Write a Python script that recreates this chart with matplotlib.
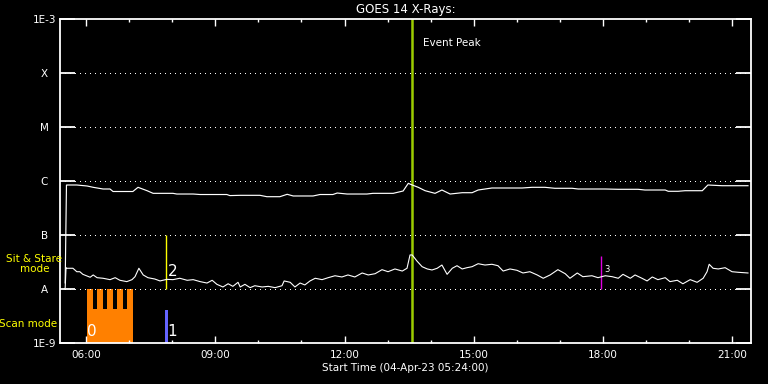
import numpy as np
import matplotlib
matplotlib.use("Agg")
import matplotlib.pyplot as plt
from matplotlib.ticker import FixedLocator

# hours since start time 04-Apr-23 05:24:00
long_t = [0.12, 0.15, 0.16, 0.39, 0.63, 0.77, 1.00, 1.16, 1.23, 1.69, 1.81, 2.02, 2.16,
          2.62, 2.71, 3.09, 3.25, 3.87, 3.94, 4.18, 4.64, 4.80, 5.10, 5.27, 5.41, 5.87,
          6.03, 6.33, 6.43, 6.66, 7.12, 7.26, 7.73, 7.96, 8.08, 8.17, 8.31, 8.47, 8.70,
          8.86, 9.05, 9.33, 9.56, 9.70, 10.02, 10.72, 10.95, 11.25, 11.48, 11.88, 12.02,
          12.65, 12.95, 13.41, 13.57, 14.04, 14.11, 14.34, 14.50, 14.90, 15.03, 15.36, 15.96]
long_flux = [1.3e-8, 8.4e-7, 8.43e-7, 8.43e-7, 8.08e-7, 7.64e-7, 7.11e-7, 7.11e-7, 6.39e-7,
             6.39e-7, 7.64e-7, 6.61e-7, 5.91e-7, 5.91e-7, 5.74e-7, 5.74e-7, 5.62e-7, 5.62e-7,
             5.37e-7, 5.43e-7, 5.43e-7, 5.12e-7, 5.12e-7, 5.67e-7, 5.28e-7, 5.28e-7, 5.62e-7,
             5.62e-7, 5.99e-7, 5.74e-7, 5.74e-7, 5.91e-7, 5.91e-7, 6.53e-7, 9.06e-7, 8.43e-7,
             7.64e-7, 6.61e-7, 5.91e-7, 6.81e-7, 5.74e-7, 6.07e-7, 6.07e-7, 6.81e-7, 7.42e-7,
             7.42e-7, 7.64e-7, 7.64e-7, 7.33e-7, 7.33e-7, 7.11e-7, 7.11e-7, 7.02e-7, 7.02e-7,
             6.81e-7, 6.81e-7, 6.45e-7, 6.45e-7, 6.61e-7, 6.61e-7, 8.43e-7, 8.18e-7, 8.18e-7]

short_t = [0.10, 0.12, 0.14, 0.16, 0.30, 0.39, 0.46, 0.53, 0.70, 0.77, 0.86, 1.00, 1.16,
           1.28, 1.39, 1.55, 1.67, 1.74, 1.83, 1.93, 2.04, 2.20, 2.32, 2.48, 2.62, 2.78,
           2.95, 3.09, 3.25, 3.41, 3.53, 3.64, 3.78, 3.90, 4.01, 4.13, 4.18, 4.29, 4.41,
           4.52, 4.69, 4.83, 4.99, 5.15, 5.20, 5.34, 5.45, 5.57, 5.68, 5.80, 5.92, 6.08,
           6.22, 6.38, 6.54, 6.68, 6.84, 7.01, 7.15, 7.31, 7.47, 7.61, 7.77, 7.94, 8.05,
           8.12, 8.17, 8.28, 8.40, 8.52, 8.63, 8.75, 8.86, 8.98, 9.10, 9.21, 9.33, 9.44,
           9.56, 9.70, 9.86, 10.02, 10.16, 10.28, 10.44, 10.60, 10.74, 10.90, 11.07, 11.21,
           11.37, 11.55, 11.72, 11.83, 12.00, 12.13, 12.34, 12.48, 12.65, 12.81, 12.95,
           13.06, 13.23, 13.34, 13.50, 13.62, 13.74, 13.87, 14.04, 14.15, 14.32, 14.45,
           14.62, 14.78, 14.92, 15.01, 15.06, 15.15, 15.27, 15.43, 15.59, 15.73, 15.96]
short_flux = [1.0e-8, 1.04e-8, 2.48e-8, 2.42e-8, 2.42e-8, 2.09e-8, 2.09e-8, 1.87e-8,
              1.65e-8, 1.82e-8, 1.62e-8, 1.58e-8, 1.49e-8, 1.62e-8, 1.45e-8, 1.37e-8,
              1.49e-8, 1.69e-8, 2.42e-8, 1.82e-8, 1.62e-8, 1.53e-8, 1.41e-8, 1.51e-8,
              1.49e-8, 1.58e-8, 1.45e-8, 1.49e-8, 1.37e-8, 1.29e-8, 1.45e-8, 1.22e-8,
              1.09e-8, 1.25e-8, 1.12e-8, 1.33e-8, 1.09e-8, 1.22e-8, 1.06e-8, 1.15e-8,
              1.09e-8, 1.12e-8, 1.06e-8, 1.15e-8, 1.41e-8, 1.33e-8, 1.09e-8, 1.29e-8,
              1.19e-8, 1.41e-8, 1.58e-8, 1.49e-8, 1.62e-8, 1.76e-8, 1.67e-8, 1.82e-8,
              1.67e-8, 1.98e-8, 1.82e-8, 1.92e-8, 2.28e-8, 2.09e-8, 2.35e-8, 2.15e-8,
              2.42e-8, 4.27e-8, 4.27e-8, 3.30e-8, 2.59e-8, 2.35e-8, 2.25e-8, 2.42e-8,
              2.78e-8, 1.87e-8, 2.42e-8, 2.70e-8, 2.35e-8, 2.48e-8, 2.59e-8, 2.94e-8,
              2.78e-8, 2.87e-8, 2.70e-8, 2.15e-8, 2.35e-8, 2.22e-8, 1.98e-8, 2.09e-8,
              1.82e-8, 1.58e-8, 1.82e-8, 2.28e-8, 1.92e-8, 1.58e-8, 1.98e-8, 1.69e-8,
              1.76e-8, 1.62e-8, 1.76e-8, 1.69e-8, 1.58e-8, 1.87e-8, 1.58e-8, 1.82e-8,
              1.58e-8, 1.41e-8, 1.67e-8, 1.49e-8, 1.62e-8, 1.37e-8, 1.45e-8, 1.25e-8,
              1.49e-8, 1.33e-8, 1.58e-8, 2.09e-8, 2.87e-8, 2.42e-8, 2.35e-8, 2.48e-8,
              2.09e-8, 2.04e-8, 1.98e-8]

# instrument modes / events
scan_block = (0.626, 1.694, 4.27e-9)       # start, end, top flux
scan_starts = [0.626, 0.858, 1.090, 1.322, 1.555]
scan_dur = 0.14
obs1 = (2.43, 0.07, 4.08e-9)               # blue scan bar
obs2 = (2.46, 1e-8, 1e-7)                  # sit & stare
obs3 = (12.55, 1e-8, 4.08e-8)
peak_t = 8.17

xmaj = [0.6, 3.6, 6.6, 9.6, 12.6, 15.6]
xlabels = ["06:00", "09:00", "12:00", "15:00", "18:00", "21:00"]
xminor = [0.6 + i for i in range(16)]
yvals = [1e-9, 1e-8, 1e-7, 1e-6, 1e-5, 1e-4, 1e-3]
ylabels = ["1E-9", "A", "B", "C", "M", "X", "1E-3"]

fig = plt.figure(figsize=(7.68, 3.84), dpi=100, facecolor="black")
ax = fig.add_axes([60 / 768, 41 / 384, 691 / 768, 324 / 384], facecolor="black")
ax.set_yscale("log")
ax.set_xlim(0, 16.03)
ax.set_ylim(1e-9, 1e-3)

for v in yvals[1:-1]:
    ax.axhline(v, color="white", lw=0.72, ls=(0, (1, 5)), antialiased=False)

# orange scan mode block with notches
ax.bar(scan_block[0], scan_block[2] - 1e-9, width=scan_block[1] - scan_block[0],
       bottom=1e-9, align="edge", color="#ff8000", lw=0)
ax.bar(scan_starts, [1e-8 - 1e-9] * len(scan_starts), width=scan_dur, bottom=1e-9,
       align="edge", color="#ff8000", lw=0)
ax.bar(obs1[0], obs1[2] - 1e-9, width=obs1[1], bottom=1e-9, align="edge",
       color="#6464ff", lw=0)
ax.vlines(obs2[0], obs2[1], obs2[2], color="#ffff00", lw=1.0)
ax.vlines(obs3[0], obs3[1], obs3[2], color="#e000e0", lw=1.0)
ax.axvline(peak_t, color="#9ccc00", lw=1.8)

ax.plot(long_t, long_flux, color="white", lw=0.85)
ax.plot(short_t, short_flux, color="white", lw=0.8)

ax.text(0.63, 1.6e-9, "0", color="white", fontsize=11, va="center", ha="left")
ax.text(2.48, 1.6e-9, "1", color="white", fontsize=11, va="center", ha="left")
ax.text(2.51, 2.07e-8, "2", color="white", fontsize=11, va="center", ha="left")
ax.text(12.62, 2.34e-8, "3", color="white", fontsize=6, va="center", ha="left")
ax.text(8.42, 3.67e-4, "Event Peak", color="white", fontsize=7.5, va="center", ha="left")

fig.text(34.5 / 768, 1 - 264 / 384, "Sit & Stare\nmode", color="#ffff00", fontsize=7.5,
         ha="center", va="center", linespacing=1.1)
fig.text(28 / 768, 1 - 324 / 384, "Scan mode", color="#ffff00", fontsize=7.5,
         ha="center", va="center")

for s in ax.spines.values():
    s.set_color("white")
    s.set_linewidth(1.3)

ax.xaxis.set_major_locator(FixedLocator(xmaj))
ax.xaxis.set_minor_locator(FixedLocator(xminor))
ax.set_xticklabels(xlabels)
ax.yaxis.set_major_locator(FixedLocator(yvals))
ax.yaxis.set_minor_locator(FixedLocator([]))
ax.set_yticklabels(ylabels)
ax.tick_params(axis="x", which="major", direction="in", length=5, width=1,
               colors="white", top=True, labelsize=7.5, pad=5)
ax.tick_params(axis="x", which="minor", direction="in", length=2.5, width=1,
               colors="white", top=True)
ax.tick_params(axis="y", which="major", direction="in", length=10.5, width=1.3,
               colors="white", right=True, labelsize=7.5, pad=11.2)
for lab in ax.get_yticklabels():
    lab.set_ha("center")

ax.set_title("GOES 14 X-Rays:", color="white", fontsize=8.5, pad=4)
ax.set_xlabel("Start Time (04-Apr-23 05:24:00)", color="white", fontsize=7.5, labelpad=2)

fig.savefig("out.png", dpi=100, facecolor="black")
